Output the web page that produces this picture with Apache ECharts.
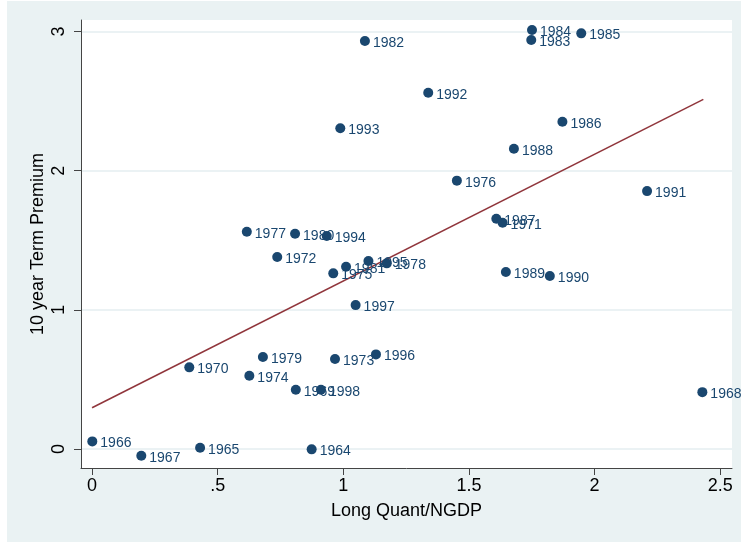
<!DOCTYPE html>
<html><head><meta charset="utf-8">
<script src="https://cdn.jsdelivr.net/npm/echarts@6/dist/echarts.min.js"></script>
<style>
html,body{margin:0;padding:0;background:#fff;}
#bg{position:absolute;left:7px;top:1px;width:734px;height:541px;background:#eaf2f3;}
#c{position:absolute;left:0;top:0;width:741px;height:542px;}
</style></head>
<body><div id="bg"></div><div id="c"></div>
<script>
const years = [1964,1965,1966,1967,1968,1969,1970,1971,1972,1973,1974,1975,1976,1977,1978,1979,1980,1981,1982,1983,1984,1985,1986,1987,1988,1989,1990,1991,1992,1993,1994,1995,1996,1997,1998];
const quant = [0.874,0.430,0.001,0.196,2.429,0.811,0.387,1.634,0.737,0.967,0.626,0.960,1.452,0.616,1.173,0.680,0.808,1.011,1.086,1.748,1.751,1.947,1.872,1.609,1.679,1.647,1.822,2.209,1.338,0.988,0.934,1.100,1.130,1.049,0.911];
const premium = [-0.002,0.009,0.055,-0.048,0.409,0.426,0.587,1.626,1.379,0.647,0.527,1.262,1.928,1.561,1.334,0.661,1.547,1.310,2.931,2.938,3.010,2.986,2.351,1.654,2.157,1.272,1.243,1.853,2.560,2.304,1.530,1.351,0.680,1.034,0.426];
const fitX = [0, 2.433];
const fitY = [0.297, 2.512];
const xTicks = [0, 0.5, 1, 1.5, 2, 2.5];
const yTicks = [0, 1, 2, 3];

const chart = echarts.init(document.getElementById('c'), null, {renderer:'canvas'});
const FONT = '"Liberation Sans", Arial, sans-serif';
const fmtX = v => { if (v === 0) return '0'; let s = String(v); return s.startsWith('0.') ? s.slice(1) : s; };
chart.setOption({
  backgroundColor: 'transparent',
  animation: false,
  grid: {left: 81, right: 9, top: 20, bottom: 74, show: true, backgroundColor: '#ffffff', borderWidth: 0},
  xAxis: {
    type: 'value', min: -0.044, max: 2.547,
    name: 'Long Quant/NGDP', nameLocation: 'middle', nameGap: 34, nameMoveOverlap: false,
    nameTextStyle: {fontFamily: FONT, fontSize: 18, color: '#000'},
    axisLine: {show: true, onZero: false, lineStyle: {color: '#444', width: 1}},
    axisTick: {show: true, length: 7, customValues: xTicks, lineStyle: {color: '#444'}},
    axisLabel: {customValues: xTicks, formatter: fmtX, fontFamily: FONT, fontSize: 18, color: '#000', margin: 9},
    splitLine: {show: false}
  },
  yAxis: {
    type: 'value', min: -0.136, max: 3.082,
    name: '10 year Term Premium', nameLocation: 'middle', nameGap: 34, nameMoveOverlap: false,
    nameTextStyle: {fontFamily: FONT, fontSize: 18, color: '#000'},
    axisLine: {show: true, onZero: false, lineStyle: {color: '#444', width: 1}},
    axisTick: {show: true, length: 7, customValues: yTicks, lineStyle: {color: '#444'}},
    axisLabel: {customValues: yTicks, rotate: 90, fontFamily: FONT, fontSize: 18, color: '#000', margin: 13},
    splitLine: {show: true, lineStyle: {color: '#e4eef0', width: 1.5}}
  },
  series: [
    {
      type: 'line', data: fitX.map((x, i) => [x, fitY[i]]), symbol: 'none', z: 2,
      lineStyle: {color: '#90353b', width: 1.5}
    },
    {
      type: 'scatter', z: 3, symbolSize: 10,
      data: quant.map((x, i) => [x, premium[i], years[i]]),
      itemStyle: {color: '#1a476f', opacity: 1},
      label: {show: true, position: 'right', distance: 3, offset: [0, 2],
        formatter: p => p.value[2], fontFamily: FONT, fontSize: 14, color: '#1a476f'}
    }
  ]
});
</script></body></html>
